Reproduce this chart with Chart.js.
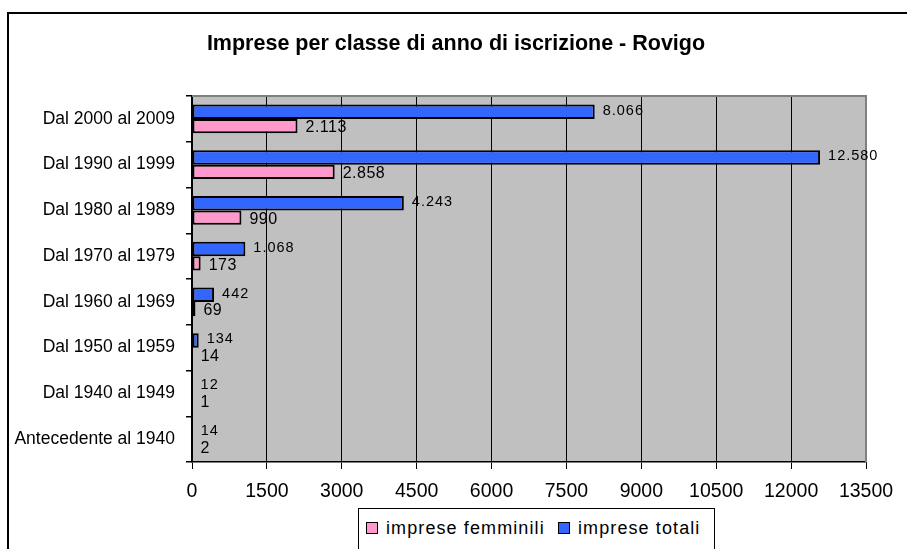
<!DOCTYPE html>
<html>
<head>
<meta charset="utf-8">
<script src="https://cdn.jsdelivr.net/npm/chart.js@4/dist/chart.umd.min.js"></script>
<style>
    body { margin: 0; background: #fff; }
    #wrap { position: relative; width: 907px; height: 549px; overflow: hidden; }
    #legend {
        position: absolute; left: 358px; top: 508px; width: 357px; height: 60px;
        border: 1px solid #000; background: #fff; box-sizing: border-box;
        font-family: "Liberation Sans", Arial, sans-serif; font-size: 18px; letter-spacing: 1.1px;
        color: #000; white-space: nowrap;
    }
    #legend .item { position: absolute; top: 8px; line-height: 22px; }
    #legend .box {
        display: inline-block; width: 10px; height: 10px; border: 1.5px solid #000;
        vertical-align: 0px; margin-right: 8px;
    }
</style>
</head>
<body>
<div id="wrap">
    <canvas id="chart" width="907" height="549"></canvas>
    <div id="legend"></div>
</div>
<script>
const categories = ['Dal 2000 al 2009', 'Dal 1990 al 1999', 'Dal 1980 al 1989', 'Dal 1970 al 1979',
    'Dal 1960 al 1969', 'Dal 1950 al 1959', 'Dal 1940 al 1949', 'Antecedente al 1940'];
const impreseTotali = [8066, 12580, 4243, 1068, 442, 134, 12, 14];
const impreseFemminili = [2113, 2858, 990, 173, 69, 14, 1, 2];
const xTicks = [0, 1500, 3000, 4500, 6000, 7500, 9000, 10500, 12000, 13500];

const FONT = '"Liberation Sans", Arial, sans-serif';

// Italian thousands separator
function fmt(v) {
    return String(v).replace(/\B(?=(\d{3})+(?!\d))/g, '.');
}

const framePlugin = {
    id: 'frame',
    afterLayout(chart) {
        // centre the title a bit right of the canvas middle, like the original
        if (chart.titleBlock) {
            chart.titleBlock.left = 46;
            chart.titleBlock.right = 866;
        }
    },
    beforeDraw(chart) {
        const ctx = chart.ctx;
        const a = chart.chartArea;
        ctx.save();
        ctx.fillStyle = '#C0C0C0';
        ctx.fillRect(a.left, a.top, a.right - a.left, a.bottom - a.top);
        // outer frame
        ctx.strokeStyle = '#000';
        ctx.lineWidth = 2;
        ctx.beginPath();
        ctx.moveTo(8, 549);
        ctx.lineTo(8, 13);
        ctx.lineTo(907, 13);
        ctx.stroke();
        ctx.restore();
    },
    afterDatasetsDraw(chart) {
        const ctx = chart.ctx;
        const a = chart.chartArea;
        ctx.save();
        ctx.strokeStyle = '#808080';
        ctx.lineWidth = 2;
        ctx.beginPath();
        ctx.moveTo(a.left, a.top);
        ctx.lineTo(a.right, a.top);
        ctx.lineTo(a.right, a.bottom);
        ctx.stroke();
        ctx.restore();
    }
};

const valueLabels = {
    id: 'valueLabels',
    afterDatasetsDraw(chart) {
        const ctx = chart.ctx;
        ctx.save();
        ctx.fillStyle = '#000';
        ctx.textAlign = 'left';
        ctx.textBaseline = 'middle';
        chart.data.datasets.forEach((ds, i) => {
            const meta = chart.getDatasetMeta(i);
            ctx.font = (i === 0 ? '14.5px ' : '16px ') + FONT;
            ctx.letterSpacing = i === 0 ? '1px' : '0.5px';
            meta.data.forEach((el, j) => {
                const base = Math.max(el.x, el.base);
                ctx.fillText(fmt(ds.data[j]), base + 8, el.y + (i === 0 ? -1 : 2));
            });
        });
        ctx.restore();
    }
};

const chart = new Chart(document.getElementById('chart'), {
    type: 'bar',
    data: {
        labels: categories,
        datasets: [
            {
                label: 'imprese totali',
                data: impreseTotali,
                backgroundColor: '#3366FF',
                borderColor: '#000',
                borderWidth: 2,
                borderSkipped: false
            },
            {
                label: 'imprese femminili',
                data: impreseFemminili,
                backgroundColor: '#FF99CC',
                borderColor: '#000',
                borderWidth: 2,
                borderSkipped: false
            }
        ]
    },
    options: {
        indexAxis: 'y',
        responsive: false,
        animation: false,
        layout: { padding: { left: 0, right: 41, top: 0, bottom: 0 } },
        datasets: { bar: { categoryPercentage: 0.63, barPercentage: 1 } },
        plugins: {
            legend: { display: false },
            tooltip: { enabled: false },
            title: {
                display: true,
                text: 'Imprese per classe di anno di iscrizione - Rovigo',
                color: '#000',
                font: { family: FONT, size: 21.5, weight: 'bold', lineHeight: 1.2 },
                padding: { top: 31, bottom: 39.2 }
            }
        },
        scales: {
            x: {
                min: 0,
                max: 13500,
                afterBuildTicks: (scale) => { scale.ticks = xTicks.map(v => ({ value: v })); },
                afterFit: (scale) => { scale.height = 87; },
                ticks: {
                    color: '#000',
                    font: { family: FONT, size: 19.5 },
                    padding: 11,
                    maxRotation: 0,
                    autoSkip: false,
                    callback: (v) => String(v)
                },
                grid: { color: '#000', lineWidth: 1, tickLength: 7 },
                border: { color: '#000', width: 1.5 }
            },
            y: {
                afterFit: (scale) => { scale.width = 192; },
                ticks: {
                    color: '#000',
                    font: { family: FONT, size: 17.5 },
                    padding: 11
                },
                grid: { offset: true, drawOnChartArea: false, color: '#000', tickLength: 6, lineWidth: 1.5 },
                border: { color: '#000', width: 1.5 }
            }
        }
    },
    plugins: [framePlugin, valueLabels]
});

// legend box, items in reverse dataset order like the original
const legendEl = document.getElementById('legend');
const lefts = [7, 199];
chart.data.datasets.slice().reverse().forEach((ds, k) => {
    const item = document.createElement('span');
    item.className = 'item';
    item.style.left = lefts[k] + 'px';
    const box = document.createElement('span');
    box.className = 'box';
    box.style.background = ds.backgroundColor;
    item.appendChild(box);
    item.appendChild(document.createTextNode(ds.label));
    legendEl.appendChild(item);
});
</script>
</body>
</html>
